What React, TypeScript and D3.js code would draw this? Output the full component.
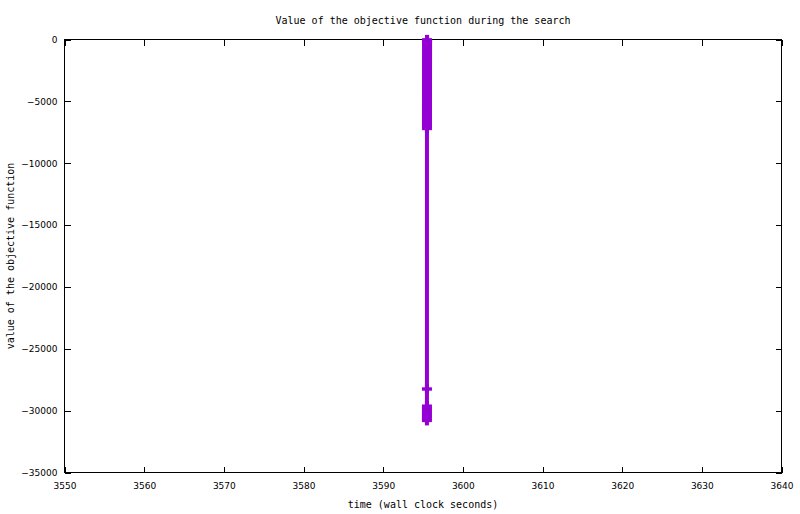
import { useEffect, useRef } from "react";
import * as d3 from "d3";

// search trace: wall clock time (s) and objective value at each improvement
const times = [
  3595.492, 3595.493, 3595.493, 3595.494, 3595.494, 3595.495, 3595.495, 3595.496,
  3595.497, 3595.497, 3595.497, 3595.498, 3595.498, 3595.498, 3595.499, 3595.499,
  3595.499, 3595.5, 3595.5, 3595.5, 3595.501, 3595.501, 3595.501, 3595.502,
  3595.502, 3595.502, 3595.503, 3595.503, 3595.503, 3595.504, 3595.504, 3595.504,
  3595.505, 3595.505, 3595.505, 3595.506, 3595.506, 3595.506, 3595.507, 3595.507,
  3595.507, 3595.508, 3595.508, 3595.508, 3595.509, 3595.509, 3595.509, 3595.51,
];
const values = [
  -30790, -30610, -30420, -30240, -30050, -29860, -29640, -28250,
  -7190, -7020, -6850, -6640, -6440, -6230, -6080, -5870,
  -5650, -5490, -5300, -5110, -4890, -4700, -4530, -4320,
  -4150, -3940, -3760, -3580, -3390, -3180, -3010, -2830,
  -2620, -2440, -2260, -2050, -1880, -1690, -1500, -1310,
  -1120, -940, -760, -570, -390, -210, -80, -30,
];

const xTicks = [3550, 3560, 3570, 3580, 3590, 3600, 3610, 3620, 3630, 3640];
const yTicks = [-35000, -30000, -25000, -20000, -15000, -10000, -5000, 0];

const title = "Value of the objective function during the search";
const xLabel = "time (wall clock seconds)";
const yLabel = "value of the objective function";

const COLOR = "#9400d3";

export default function App() {
  const svgRef = useRef<SVGSVGElement>(null);

  useEffect(() => {
    if (!svgRef.current) return;
    const svg = d3.select(svgRef.current);
    svg.selectAll("*").remove();

    const left = 64.5;
    const right = 781.5;
    const top = 39.5;
    const bottom = 472.5;

    const x = d3.scaleLinear().domain([3550, 3640]).range([left, right]);
    const y = d3.scaleLinear().domain([-35000, 0]).range([bottom, top]);

    const data = times.map((t, i) => ({ t, v: values[i] }));

    // ticks on all four sides, pointing inward
    const bottomAxis = svg
      .append("g")
      .attr("transform", `translate(0,${bottom})`)
      .call(
        d3
          .axisBottom(x)
          .tickValues(xTicks)
          .tickSize(-6)
          .tickSizeOuter(0)
          .tickPadding(10.5)
          .tickFormat(d3.format("d"))
      );
    const leftAxis = svg
      .append("g")
      .attr("transform", `translate(${left},0)`)
      .call(
        d3
          .axisLeft(y)
          .tickValues(yTicks)
          .tickSize(-6)
          .tickSizeOuter(0)
          .tickPadding(7)
          .tickFormat(d3.format("d"))
      );
    const topAxis = svg
      .append("g")
      .attr("transform", `translate(0,${top})`)
      .call(d3.axisTop(x).tickValues(xTicks).tickSize(-6).tickSizeOuter(0).tickFormat(() => ""));
    const rightAxis = svg
      .append("g")
      .attr("transform", `translate(${right},0)`)
      .call(d3.axisRight(y).tickValues(yTicks).tickSize(-6).tickSizeOuter(0).tickFormat(() => ""));

    [bottomAxis, leftAxis, topAxis, rightAxis].forEach((g) => {
      g.select(".domain").remove();
      g.selectAll("line").attr("stroke", "#000").attr("shape-rendering", "crispEdges");
      g.selectAll("text")
        .attr("fill", "#000")
        .style("font-family", "'DejaVu Sans', sans-serif")
        .style("font-size", "9px");
    });

    svg
      .append("rect")
      .attr("x", left)
      .attr("y", top)
      .attr("width", right - left)
      .attr("height", bottom - top)
      .attr("fill", "none")
      .attr("stroke", "#000")
      .attr("shape-rendering", "crispEdges");

    // trace line
    const line = d3
      .line<{ t: number; v: number }>()
      .x((d) => x(d.t))
      .y((d) => y(d.v));

    svg
      .append("path")
      .datum(data)
      .attr("fill", "none")
      .attr("stroke", COLOR)
      .attr("stroke-width", 4)
      .attr("d", line);

    // plus markers
    const pts = svg
      .append("g")
      .selectAll("g")
      .data(data)
      .enter()
      .append("g")
      .attr("transform", (d) => `translate(${x(d.t)},${y(d.v)})`);
    pts
      .append("rect")
      .attr("x", -5)
      .attr("y", -1.7)
      .attr("width", 10)
      .attr("height", 3.4)
      .attr("fill", COLOR);
    pts
      .append("rect")
      .attr("x", -2)
      .attr("y", -5)
      .attr("width", 4)
      .attr("height", 10)
      .attr("fill", COLOR);

    const mono = "'DejaVu Sans Mono', monospace";

    svg
      .append("text")
      .attr("x", (left + right) / 2)
      .attr("y", 23.5)
      .attr("text-anchor", "middle")
      .style("font-family", mono)
      .style("font-size", "10px")
      .text(title);

    svg
      .append("text")
      .attr("x", (left + right) / 2)
      .attr("y", 508)
      .attr("text-anchor", "middle")
      .style("font-family", mono)
      .style("font-size", "10px")
      .text(xLabel);

    svg
      .append("text")
      .attr("transform", `translate(14,${(top + bottom) / 2}) rotate(-90)`)
      .attr("text-anchor", "middle")
      .style("font-family", mono)
      .style("font-size", "10px")
      .text(yLabel);
  }, []);

  return (
    <svg
      ref={svgRef}
      width={800}
      height={514}
      style={{ position: "absolute", left: 0, top: 0, background: "#fff" }}
    />
  );
}
